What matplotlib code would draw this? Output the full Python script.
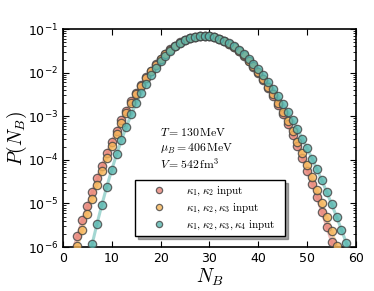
import numpy as np
import matplotlib
matplotlib.use("Agg")
import matplotlib.pyplot as plt

# baryon number N_B = 1..59
nb = np.arange(1, 60)

# kappa1, kappa2 input
p_k12 = [3.33e-7, 7.93e-7, 1.82e-6, 4.07e-6, 8.81e-6, 1.85e-5, 3.75e-5, 7.38e-5, 1.41e-4, 2.59e-4,
         4.65e-4, 8.04e-4, 1.35e-3, 2.19e-3, 3.46e-3, 5.27e-3, 7.80e-3, 1.12e-2, 1.55e-2, 2.08e-2,
         2.70e-2, 3.41e-2, 4.17e-2, 4.93e-2, 5.65e-2, 6.28e-2, 6.76e-2, 7.05e-2, 7.11e-2, 6.95e-2,
         6.59e-2, 6.04e-2, 5.37e-2, 4.62e-2, 3.86e-2, 3.12e-2, 2.44e-2, 1.85e-2, 1.36e-2, 9.70e-3,
         6.68e-3, 4.47e-3, 2.89e-3, 1.82e-3, 1.10e-3, 6.49e-4, 3.70e-4, 2.04e-4, 1.09e-4, 5.65e-5,
         2.84e-5, 1.38e-5, 6.50e-6, 2.96e-6, 1.31e-6, 5.62e-7, 2.33e-7, 9.4e-8, 3.7e-8]

# kappa1, kappa2, kappa3 input
p_k123 = [1.66e-7, 4.27e-7, 1.05e-6, 2.49e-6, 5.70e-6, 1.26e-5, 2.69e-5, 5.52e-5, 1.09e-4, 2.09e-4,
          3.87e-4, 6.90e-4, 1.19e-3, 1.98e-3, 3.18e-3, 4.93e-3, 7.40e-3, 1.07e-2, 1.50e-2, 2.03e-2,
          2.66e-2, 3.38e-2, 4.14e-2, 4.91e-2, 5.64e-2, 6.28e-2, 6.76e-2, 7.05e-2, 7.11e-2, 6.95e-2,
          6.59e-2, 6.04e-2, 5.38e-2, 4.65e-2, 3.89e-2, 3.16e-2, 2.49e-2, 1.90e-2, 1.41e-2, 1.02e-2,
          7.08e-3, 4.81e-3, 3.17e-3, 2.03e-3, 1.26e-3, 7.64e-4, 4.49e-4, 2.56e-4, 1.42e-4, 7.67e-5,
          4.04e-5, 2.07e-5, 1.03e-5, 4.97e-6, 2.34e-6, 1.08e-6, 4.81e-7, 2.09e-7, 8.8e-8]

# kappa1 .. kappa4 input
p_k1234 = [1.7e-9, 7.4e-9, 2.9e-8, 1.08e-7, 3.67e-7, 1.17e-6, 3.44e-6, 9.46e-6, 2.44e-5, 5.89e-5,
           1.34e-4, 2.86e-4, 5.77e-4, 1.10e-3, 1.99e-3, 3.40e-3, 5.56e-3, 8.63e-3, 1.28e-2, 1.82e-2,
           2.47e-2, 3.21e-2, 4.02e-2, 4.83e-2, 5.60e-2, 6.25e-2, 6.76e-2, 7.05e-2, 7.11e-2, 6.95e-2,
           6.61e-2, 6.07e-2, 5.43e-2, 4.73e-2, 4.02e-2, 3.31e-2, 2.66e-2, 2.09e-2, 1.60e-2, 1.20e-2,
           8.71e-3, 6.21e-3, 4.33e-3, 2.95e-3, 1.96e-3, 1.28e-3, 8.15e-4, 5.07e-4, 3.08e-4, 1.83e-4,
           1.07e-4, 6.07e-5, 3.37e-5, 1.82e-5, 9.68e-6, 5.00e-6, 2.52e-6, 1.24e-6, 5.92e-7]

labels = [r'$\kappa_1,\kappa_2\ \mathrm{input}$',
          r'$\kappa_1,\kappa_2,\kappa_3\ \mathrm{input}$',
          r'$\kappa_1,\kappa_2,\kappa_3,\kappa_4\ \mathrm{input}$']
colors = ['#e8857a', '#f5b458', '#58b6ae']

fig = plt.figure(figsize=(3.74, 2.91), dpi=100)
ax = fig.add_axes([0.168, 0.151, 0.784, 0.749])

for p, c, lab in zip([p_k12, p_k123, p_k1234], colors, labels):
    p = np.array(p)
    ax.plot(nb, p, color=c, lw=2.2, alpha=0.55, zorder=2)
    m = p >= 1e-6
    ax.plot(nb[m], p[m], 'o', ms=6, mfc=c, mec='#444444', mew=0.9, alpha=0.8,
            zorder=3, label=lab)

ax.set_yscale('log')
ax.set_xlim(0, 60)
ax.set_ylim(1e-6, 1e-1)
ax.set_xticks([0, 10, 20, 30, 40, 50, 60])
ax.tick_params(which='both', direction='in', top=True, right=True, labelsize=9)
ax.tick_params(which='major', length=4, width=0.8)
ax.tick_params(which='minor', length=2, width=0.6)
for s in ax.spines.values():
    s.set_linewidth(1.2)

xl = ax.set_xlabel(r'$N_B$', fontsize=14, labelpad=1)
yl = ax.set_ylabel(r'$P(N_B)$', fontsize=14, labelpad=-1)
xl.set_math_fontfamily('cm')
yl.set_math_fontfamily('cm')

for ypos, s in zip([0.51, 0.435, 0.36],
                   [r'$T=130\,\mathrm{MeV}$', r'$\mu_B=406\,\mathrm{MeV}$',
                    r'$V=542\,\mathrm{fm}^3$']):
    t = ax.text(0.33, ypos, s, transform=ax.transAxes, fontsize=8.5)
    t.set_math_fontfamily('cm')

leg = ax.legend(loc='lower left', bbox_to_anchor=(0.246, 0.05, 0.512, 0.27),
                mode='expand', borderaxespad=0, fontsize=8, fancybox=False,
                shadow=True, frameon=True, markerscale=0.75, handlelength=3.5,
                handletextpad=0.7, borderpad=0.4, labelspacing=0.3)
leg.get_frame().set_edgecolor('black')
leg.get_frame().set_linewidth(1.0)
for t in leg.get_texts():
    t.set_math_fontfamily('cm')

fig.savefig('out.png', dpi=100)
